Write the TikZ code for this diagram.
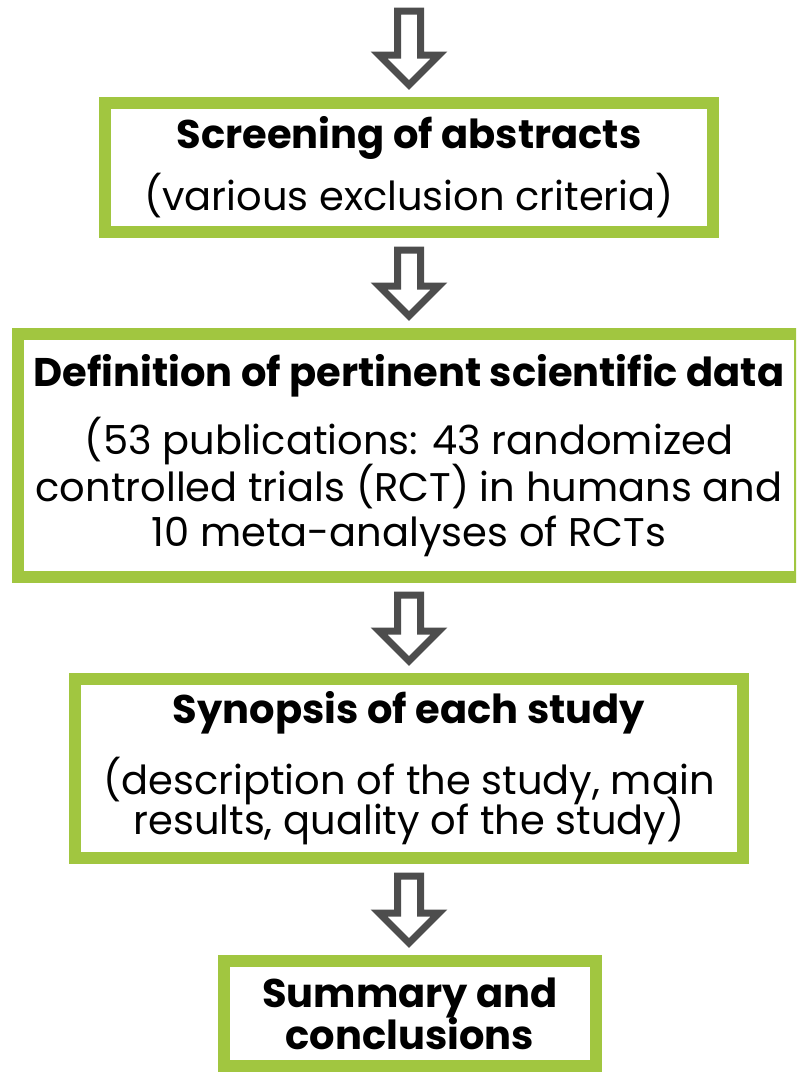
\documentclass[tikz,border=0pt]{standalone}
\usepackage{fontspec}
\setmainfont{Poppins}
\usetikzlibrary{calc,positioning}

\definecolor{boxgreen}{RGB}{161,198,64}
\definecolor{arrowgrey}{RGB}{77,77,77}

\newcommand{\flowarrow}[2]{%
  \draw[hollow] let \p1=(#1), \p2=(#2) in
    (\x1-11.5,\y1-12) -- (\x1+11.5,\y1-12) -- (\x1+11.5,\y2+42) -- (\x1+30,\y2+42)
    -- (\x1,\y2+12) -- (\x1-30,\y2+42) -- (\x1-11.5,\y2+42) -- cycle;}

\begin{document}
\begin{tikzpicture}[x=1pt,y=1pt,
  stage/.style={draw=boxgreen,line width=12pt,fill=white,align=center,inner sep=0pt,
    font=\fontsize{40}{47}\selectfont},
  hollow/.style={draw=arrowgrey,line width=7pt,fill=white,line join=miter}]
  \useasboundingbox (0,0) rectangle (796,-1074);
  \clip (0,0) rectangle (796,-1074);
  \coordinate (top) at (409,1);
  \node[stage,minimum width=608pt,minimum height=129pt] (screen) at (409,-167.5)
    {\textbf{Screening of abstracts}\\[13pt]
     (various exclusion criteria)};
  \node[stage,minimum width=782pt,minimum height=243pt] (define) at (409,-455.5)
    {\textbf{Definition of pertinent scientific data}\\[19pt]
     (53 publications: 43 randomized\\[-2pt]
     controlled trials (RCT) in humans and\\[-2pt]
     10 meta-analyses of RCTs};
  \node[stage,minimum width=668pt,minimum height=179pt] (synopsis) at (409,-768.5)
    {\textbf{Synopsis of each study}\\[22pt]
     (description of the study, main\\[-9pt]
     results, quality of the study)};
  \node[stage,minimum width=372pt,minimum height=105pt] (summary) at (410,-1013.5)
    {\textbf{Summary and}\\[-5pt]
     \textbf{conclusions}};
  \flowarrow{top}{screen.north}
  \flowarrow{screen.south}{define.north}
  \flowarrow{define.south}{synopsis.north}
  \flowarrow{synopsis.south}{summary.north}
\end{tikzpicture}
\end{document}
